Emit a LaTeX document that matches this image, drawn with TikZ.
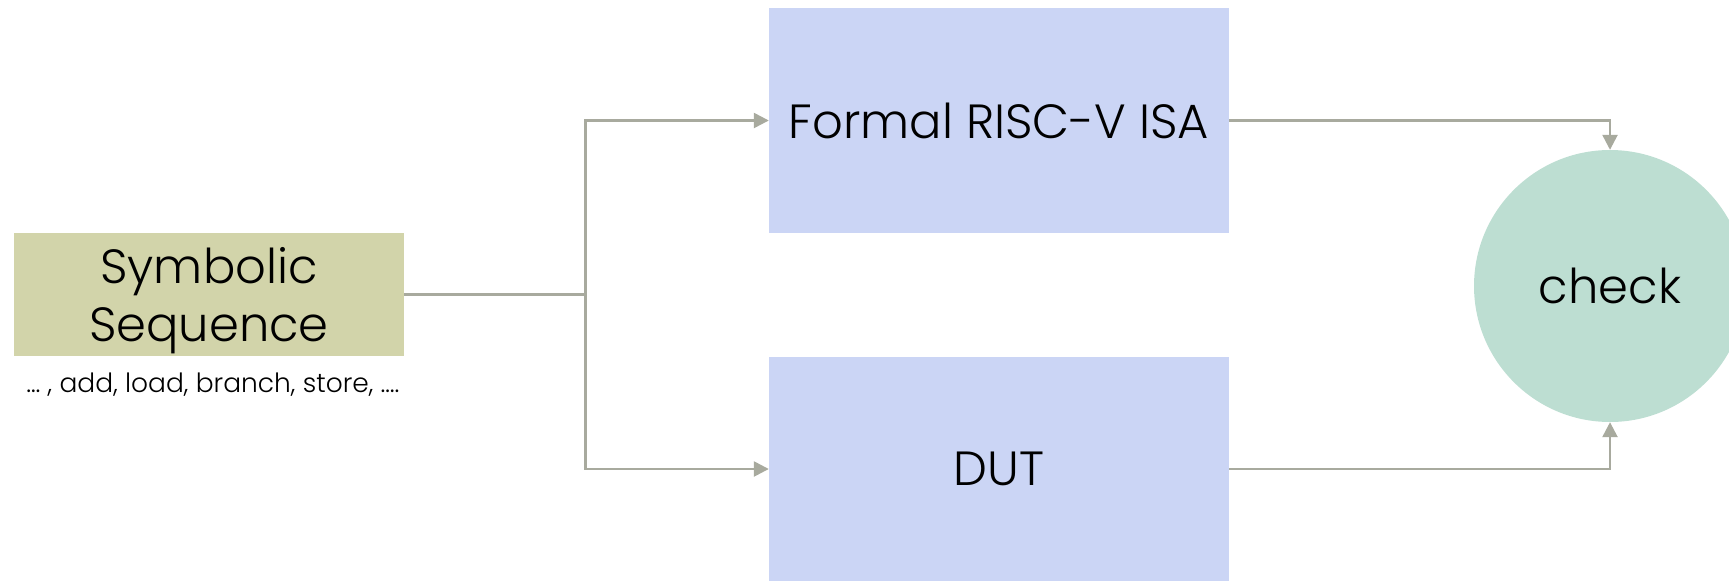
\documentclass[tikz,border=0pt]{standalone}
\usepackage{fontspec}
\setmainfont{Poppins}[UprightFont=* Light]
\usetikzlibrary{arrows.meta}
\definecolor{seqfill}{HTML}{D2D4AA}
\definecolor{boxfill}{HTML}{CBD5F5}
\definecolor{chkfill}{HTML}{BDDED2}
\definecolor{wire}{HTML}{A8AA9E}
\tikzset{
  block/.style={rectangle, inner sep=0pt, text=black, font=\fontsize{48}{57.5}\selectfont},
  conn/.style={draw=wire, line width=2.5pt},
  arr/.style={conn, -{Triangle[length=15pt,width=15pt]}},
}
\begin{document}
\begin{tikzpicture}[x=1pt,y=-1pt]
  \useasboundingbox (0,0) rectangle (1729,581);
  \clip (0,0) rectangle (1729,581);
  % input sequence
  \node[block, fill=seqfill, minimum width=390pt, minimum height=123pt, align=center,
        text depth=0pt]
    (seq) at (209,294.5) {Symbolic\\Sequence};
  \node[font=\fontsize{26.5}{32}\selectfont, inner sep=0pt] (ops) at (213,385)
    {\dots\ , add, load, branch, store, \dots.};
  % reference model and device under test
  \node[block, fill=boxfill, minimum width=460pt, minimum height=225pt]
    (formal) at (999,120.5) {Formal RISC-V ISA};
  \node[block, fill=boxfill, minimum width=460pt, minimum height=224pt]
    (dut) at (999,469) {DUT};
  % comparator
  \node[circle, fill=chkfill, minimum size=272pt, inner sep=0pt,
        font=\fontsize{48}{57.5}\selectfont] (chk) at (1610,286) {check};
  % wiring
  \coordinate (split) at (585.5,294.5);
  \draw[conn] (seq.east) -- (split);
  \draw[arr] (split) |- (formal.west);
  \draw[arr] (split) |- (dut.west);
  \draw[arr] (formal.east) -| (chk.north);
  \draw[arr] (dut.east) -| (chk.south);
\end{tikzpicture}
\end{document}
